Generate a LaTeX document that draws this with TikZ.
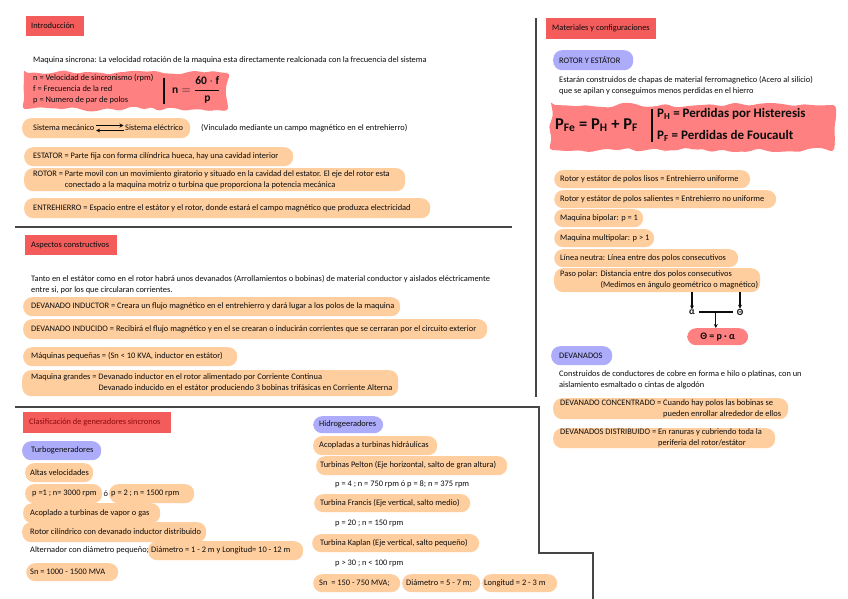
\documentclass[tikz,border=0pt]{standalone}
\usepackage{fontspec}
\usepackage{amsmath}
\setmainfont{Carlito}
\usetikzlibrary{decorations.pathmorphing,arrows.meta,calc}
\definecolor{hdr}{RGB}{244,92,92}
\definecolor{peach}{RGB}{255,206,158}
\definecolor{lav}{RGB}{172,172,250}
\definecolor{blob}{RGB}{255,128,128}
\definecolor{ink}{RGB}{12,12,12}
\definecolor{maroon}{RGB}{140,10,10}
\definecolor{sepline}{RGB}{70,70,70}
% [style]{name}{x}{y}{w}{h}{text x}{text}
\newcommand{\mypill}[8][pill]{\node[#1, minimum width=#5pt, minimum height=#6pt] (#2) at (#3,#4) {};
  \node[txt] (#2-t) at (#7,#4+#6/2) {#8};}
\newcommand{\myhdr}[8][]{\node[hdrbox, minimum width=#5pt, minimum height=#6pt] (#2) at (#3,#4) {};
  \node[txt, #1] (#2-t) at (#7,#4+#6/2) {#8};}
\begin{document}
\begin{tikzpicture}[x=1pt,y=-1pt,
  every node/.style={text=ink, font=\fontsize{8.4}{11}\selectfont},
  hdrbox/.style={fill=hdr, anchor=north west, inner sep=0pt},
  pill/.style={fill=peach, rounded corners=9pt, anchor=north west, inner sep=0pt},
  bpill/.style={pill, fill=lav},
  rpill/.style={pill, fill=blob},
  txt/.style={anchor=west, inner sep=0pt, align=left},
  hand/.style={inner sep=0pt, font=\bfseries\fontsize{#1}{#1}\selectfont},
  sep/.style={draw=sepline, line width=1.4pt},
  conn/.style={draw=ink, line width=1.1pt},
  arr/.style={conn, -{Stealth[length=4pt,width=4pt]}},
  blobfill/.style={fill=blob, decorate, decoration={random steps, segment length=8pt, amplitude=2.6pt}, rounded corners=4pt}
]
\pgfmathsetseed{7}
\useasboundingbox (0,0) rectangle (848,599);
\fill[white] (0,0) rectangle (848,599);

% ---------------- separators
\draw[sep] (15,227) -- (512,227);
\draw[sep, line width=1.2pt] (536,18) -- (536,397);
\draw[sep] (15,407) -- (539,407) -- (539,553) -- (593,553) -- (593,599);

% ---------------- Introducción
\myhdr{h1}{26}{16}{58}{20}{31}{Introducción}
\node[txt] (sinc) at (33,60) {Maquina sincrona: La velocidad rotación de la maquina esta directamente realcionada con la frecuencia del sistema};

\fill[blobfill] (24,73) -- (228,73) -- (228,109) -- (24,109) -- cycle;
\node[txt] (defs) at (33,89) {n = Velocidad de sincronismo (rpm)\\f = Frecuencia de la red\\p = Numero de par de polos};
\node[inner sep=0pt] (bar1a) at (164,77) {};
\node[inner sep=0pt] (bar1b) at (164,105) {};
\draw[conn, line width=1.5pt] (bar1a) -- (bar1b);
\node[hand=11.5, anchor=west] (form1) at (172,90) {$\mathbf{n} = \dfrac{\mathbf{60\cdot f}}{\mathbf{p}}$};

\node[pill, minimum width=168pt, minimum height=20pt] (sis) at (22,118) {};
\node[txt] (mec) at (33,128) {Sistema mecánico};
\node[txt] (ele) at (125,128) {Sistema eléctrico};
\draw[conn, line width=1.3pt, -{Stealth[length=4pt,width=4pt]}] ([xshift=1.5pt,yshift=2.5pt]mec.east) -- ([xshift=-1.5pt,yshift=2.5pt]ele.west);
\draw[conn, line width=1.3pt, -{Stealth[length=4pt,width=4pt]}] ([xshift=-1.5pt,yshift=-2.5pt]ele.west) -- ([xshift=1.5pt,yshift=-2.5pt]mec.east);
\node[txt] (vinc) at (201,128) {(Vinculado mediante un campo magnético en el entrehierro)};

\mypill{estator}{24}{147}{269}{19}{33}{ESTATOR = Parte fija con forma cilíndrica hueca, hay una cavidad interior}
\mypill{rotor}{24}{168}{381}{23}{33}{ROTOR = Parte movil con un movimiento giratorio y situado en la cavidad del estator. El eje del rotor esta\\\phantom{ROTOR = }conectado a la maquina motriz o turbina que proporciona la potencia mecánica}
\mypill{entre}{24}{198}{406}{20}{33}{ENTREHIERRO = Espacio entre el estátor y el rotor, donde estará el campo magnético que produzca electricidad}

% ---------------- Aspectos constructivos
\myhdr{h2}{25}{235}{92}{20}{31}{Aspectos constructivos}
\node[txt] (tanto) at (31,284.5) {Tanto en el estátor como en el rotor habrá unos devanados (Arrollamientos o bobinas) de material conductor y aislados eléctricamente\\entre si, por los que circularan corrientes.};
\mypill{ind}{23}{297}{377}{19}{31}{DEVANADO INDUCTOR = Creara un flujo magnético en el entrehierro y dará lugar a los polos de la maquina}
\mypill{indu}{23}{319}{464}{20}{31}{DEVANADO INDUCIDO = Recibirá el flujo magnético y en el se crearan o inducirán corrientes que se cerraran por el circuito exterior}
\mypill{peq}{23}{347}{214}{19}{31}{Máquinas pequeñas = (Sn < 10 KVA, inductor en estátor)}
\mypill{gra}{22}{370}{376}{26}{31}{Maquina grandes = Devanado inductor en el rotor alimentado por Corriente Continua\\\phantom{Maquina grandes = }Devanado inducido en el estátor produciendo 3 bobinas trifásicas en Corriente Alterna}

% ---------------- Clasificación
\myhdr[text=maroon]{h3}{23}{412}{148}{21}{29}{Clasificación de generadores sincronos}
\mypill[bpill]{turbo}{22}{441}{79}{19}{31}{Turbogeneradores}
\mypill{altas}{25}{463}{68}{19}{30}{Altas velocidades}
\mypill{p1}{25}{484}{77}{19}{32}{p =1 ; n= 3000 rpm}
\node[txt] (o1) at (103.5,493.5) {ó};
\mypill{p2}{109}{484}{85}{19}{111}{p = 2 ; n = 1500 rpm}
\mypill{acop}{23}{503}{137}{20}{30}{Acoplado a turbinas de vapor o gas}
\mypill{rotc}{22}{522}{184}{20}{30}{Rotor cilíndrico con devanado inductor distribuido}
\node[txt] (alt) at (30,550.5) {Alternador con diámetro pequeño;};
\mypill{diam}{148}{541}{155}{19}{151}{Diámetro = 1 - 2 m y Longitud= 10 - 12 m}
\mypill{sn1}{26}{563}{92}{18}{30}{Sn = 1000 - 1500 MVA}

\mypill[bpill]{hidro}{313}{416}{70}{17}{319}{Hidrogeeradores}
\mypill{acoph}{313}{436}{124}{19}{319}{Acopladas a turbinas hidráulicas}
\mypill{pelton}{316}{456}{191}{19}{320}{Turbinas Pelton (Eje horizontal, salto de gran altura)}
\node[txt] (pel) at (335,484) {p = 4 ; n = 750 rpm ó p = 8; n = 375 rpm};
\mypill{francis}{314}{494}{156}{18}{320}{Turbina Francis (Eje vertical, salto medio)}
\node[txt] (fra) at (335,523) {p = 20 ; n = 150 rpm};
\mypill{kaplan}{312}{534}{167}{18}{320}{Turbina Kaplan (Eje vertical, salto pequeño)}
\node[txt] (kap) at (335,563) {p > 30 ; n < 100 rpm};
\mypill{sn2}{313}{574}{87}{18}{319}{Sn \ = 150 - 750 MVA;}
\mypill{diam2}{402}{574}{78}{18}{406}{Diámetro = 5 - 7 m;}
\mypill{long2}{482}{574}{75}{18}{484}{Longitud = 2 - 3 m}

% ---------------- Materiales y configuraciones
\myhdr{h4}{546}{18}{110}{21}{552}{Materiales y configuraciones}
\mypill[bpill]{rye}{553}{50}{80}{20}{559}{ROTOR Y ESTÁTOR}
\node[txt] (estaran) at (559,85.5) {Estarán construidos de chapas de material ferromagnetico (Acero al silicio)\\que se apilan y conseguimos menos perdidas en el hierro};

\fill[blobfill] (551,105) -- (834,105) -- (834,150) -- (551,150) -- cycle;
\node[hand=16.5, anchor=west] (pfe) at (555,125) {P\textsubscript{Fe} = P\textsubscript{H} + P\textsubscript{F}};
\node[inner sep=0pt] (bar2a) at (652,108) {};
\node[inner sep=0pt] (bar2b) at (652,143) {};
\draw[conn, line width=1.5pt] (bar2a) -- (bar2b);
\node[hand=13, anchor=west] (ph) at (657,114) {P\textsubscript{H} = Perdidas por Histeresis};
\node[hand=13, anchor=west] (pf) at (657,136) {P\textsubscript{F} = Perdidas de Foucault};

\mypill{lisos}{554}{170}{196}{18}{560}{Rotor y estátor de polos lisos = Entrehierro uniforme}
\mypill{sal}{554}{190}{222}{18}{560}{Rotor y estátor de polos salientes = Entrehierro no uniforme}
\mypill{bip}{554}{209}{89}{18}{560}{Maquina bipolar: p = 1}
\mypill{mul}{554}{229}{100}{18}{560}{Maquina multipolar: p > 1}
\mypill{neu}{554}{249}{184}{18}{560}{Línea neutra: Línea entre dos polos consecutivos}
\mypill{paso}{554}{268}{206}{24}{560}{Paso polar: Distancia entre dos polos consecutivos\\\phantom{Paso polar: }(Medimos en ángulo geométrico o magnético)}

\node[hand=9.5] (alpha) at (692,312) {α};
\node[hand=9.5] (theta) at (740,312) {Θ};
\draw[arr] (paso.south -| alpha) -- (alpha.north);
\draw[arr] (paso.south -| theta) -- (theta.north);
\coordinate (mid) at ($(alpha.east)!0.5!(theta.west)$);
\draw[conn] ([xshift=4pt]alpha.east) -- ([xshift=-4pt]theta.west);
\node[rpill, minimum width=61pt, minimum height=17pt] (eq) at (687,328) {};
\node[hand=10] (eqt) at (eq.center) {Θ = p · α};
\draw[arr] (mid) -- (eq.north -| mid);

\mypill[bpill]{dev}{551}{346}{61}{19}{559}{DEVANADOS}
\node[txt] (cons) at (559,380) {Construidos de conductores de cobre en forma e hilo o platinas, con un\\aislamiento esmaltado o cintas de algodón};
\mypill{conc}{553}{398}{235}{21}{560}{DEVANADO CONCENTRADO = Cuando hay polos las bobinas se\\\phantom{DEVANADO CONCENTRADO = }pueden enrollar alrededor de ellos}
\mypill{dist}{553}{428}{222}{20}{560}{DEVANADOS DISTRIBUIDO = En ranuras y cubriendo toda la\\\phantom{DEVANADOS DISTRIBUIDO = }periferia del rotor/estátor}
\end{tikzpicture}
\end{document}
